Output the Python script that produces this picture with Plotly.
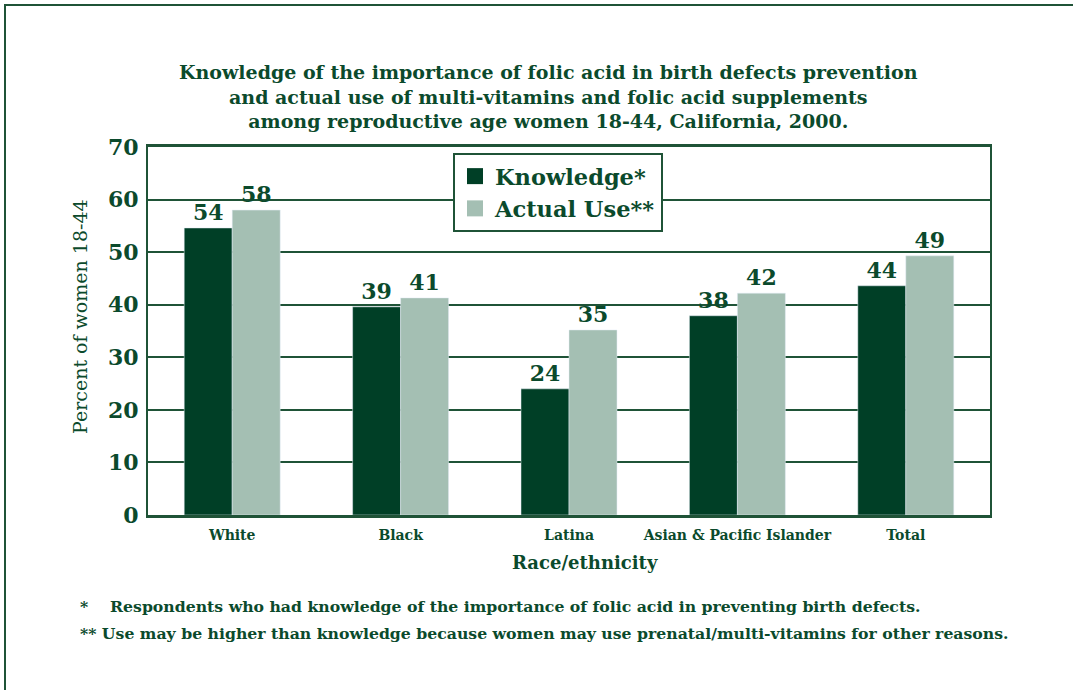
import plotly.graph_objects as go

# Values
groups = ['White', 'Black', 'Latina', 'Asian & Pacific Islander', 'Total']
knowledge = [54.6, 39.6, 24.0, 37.9, 43.6]
actual_use = [58.0, 41.3, 35.2, 42.2, 49.3]
knowledge_labels = ['54', '39', '24', '38', '44']
actual_use_labels = ['58', '41', '35', '42', '49']

DARK = '#003f26'
LIGHT = '#a4bfb3'
INK = '#0b4a2c'
LINE = '#1f5337'
FONT = 'DejaVu Serif'

W, H = 1073, 690
L, R, T, B = 148, 990, 147, 515   # plot area in pixels


def px(x):
    return (x - L) / (R - L)


def py(y):
    return (B - y) / (B - T)


fig = go.Figure()
fig.add_trace(go.Bar(
    name='Knowledge*', x=groups, y=knowledge, marker_color=DARK,
    text=knowledge_labels, textposition='outside', cliponaxis=False,
    showlegend=False))
fig.add_trace(go.Bar(
    name='Actual Use**', x=groups, y=actual_use, marker_color=LIGHT,
    text=actual_use_labels, textposition='outside', cliponaxis=False,
    showlegend=False))
fig.update_traces(textfont=dict(family=FONT, size=22, color=INK, weight='bold'))

# legend entries with bigger square swatches
for name, col in [('Knowledge*', DARK), ('Actual Use**', LIGHT)]:
    fig.add_trace(go.Scatter(x=[None], y=[None], mode='markers', name=name,
                             marker=dict(symbol='square', size=16, color=col)))

fig.update_layout(
    width=W, height=H,
    margin=dict(l=L, r=W - R, t=T, b=H - B),
    paper_bgcolor='white', plot_bgcolor='white',
    barmode='group', bargap=0.43, bargroupgap=0,
    font=dict(family=FONT, color=INK),
    legend=dict(x=px(453), y=py(153), xanchor='left', yanchor='top',
                bgcolor='white', bordercolor=LINE, borderwidth=2,
                font=dict(family=FONT, size=22.5, color=INK, weight='bold'),
                itemsizing='trace', tracegroupgap=0),
    showlegend=True,
)

fig.update_yaxes(range=[0, 70], dtick=10, showgrid=True, gridcolor=LINE, gridwidth=2,
                 showline=True, linecolor=LINE, linewidth=2, mirror=True,
                 tickfont=dict(family=FONT, size=22, color=INK, weight='bold'),
                 ticks='', ticklabelstandoff=3, zeroline=False)
fig.update_xaxes(showline=True, linecolor=LINE, linewidth=3, mirror=True,
                 tickfont=dict(family=FONT, size=14, color=INK, weight='bold'),
                 ticks='', ticklabelstandoff=5)

anns = [
    dict(x=px(548), y=py(97), text='Knowledge of the importance of folic acid in birth defects prevention'
         '<br>and actual use of multi-vitamins and folic acid supplements'
         '<br>among reproductive age women 18-44, California, 2000.',
         font=dict(size=19, weight='bold'), xanchor='center', yanchor='middle'),
    dict(x=px(80), y=py(317), text='Percent of women 18-44', textangle=-90,
         font=dict(size=19), xanchor='center', yanchor='middle'),
    dict(x=px(585), y=py(562), text='Race/ethnicity',
         font=dict(size=18, weight='bold'), xanchor='center', yanchor='middle'),
    dict(x=px(78), y=py(606), text='*\u00a0\u00a0\u00a0\u00a0Respondents who had knowledge of the importance of folic acid in preventing birth defects.',
         font=dict(size=15.7, weight='bold'), xanchor='left', yanchor='middle'),
    dict(x=px(78), y=py(633), text='** Use may be higher than knowledge because women may use prenatal/multi-vitamins for other reasons.',
         font=dict(size=15.7, weight='bold'), xanchor='left', yanchor='middle'),
]
for a in anns:
    a.update(xref='paper', yref='paper', showarrow=False)
    a['font'] = dict(family=FONT, color=INK, **a['font'])
fig.update_layout(annotations=anns)

# outer frame (only top and left edges visible in the original)
fig.add_shape(type='rect', xref='paper', yref='paper',
              x0=px(5), y0=py(700), x1=px(1090), y1=py(5),
              line=dict(color=LINE, width=2), layer='below')

# drop the page's default body margin so the figure sits at the top-left corner
fig.write_html('out.html', config={'displayModeBar': False},
               post_script="document.body.style.margin='0';")
